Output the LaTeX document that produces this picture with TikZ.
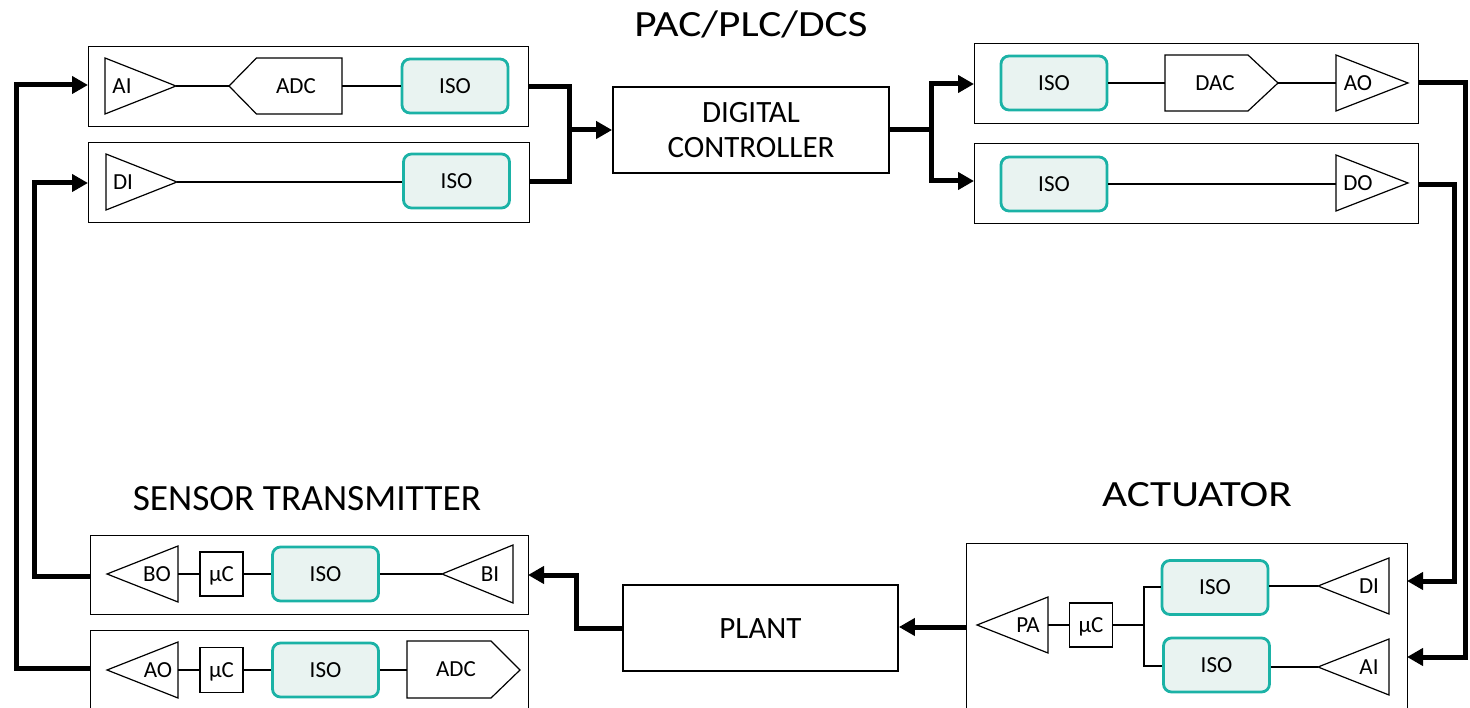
\documentclass[tikz,border=0pt]{standalone}
\usepackage{fontspec}
\setmainfont{Carlito}
\usetikzlibrary{arrows.meta}
\definecolor{isoteal}{RGB}{27,178,166}
\definecolor{isofill}{RGB}{233,243,241}
\begin{document}
\begin{tikzpicture}[x=1pt,y=-1pt,
  module/.style={draw, line width=1.2pt, inner sep=0pt, anchor=north west},
  bigbox/.style={draw, line width=1.8pt, inner sep=0pt, minimum width=276pt, minimum height=86pt},
  bigtext/.style={inner sep=0pt, font=\fontsize{31}{35}\selectfont, text height=20pt, text depth=0pt},
  lbl/.style={inner sep=0pt, font=\fontsize{23}{25}\selectfont, text height=14.8pt, text depth=0pt},
  title/.style={inner sep=0pt, font=\fontsize{37}{40}\selectfont, text height=23.8pt, text depth=0pt},
  iso/.style={draw=isoteal, line width=2.8pt, fill=isofill, rounded corners=8pt,
    minimum width=106pt, minimum height=54pt, lbl},
  mcbox/.style={draw, line width=1.2pt, minimum width=43pt, minimum height=44pt, lbl},
  wire/.style={line width=1.2pt},
  amp/.style={line width=1.2pt, line join=miter},
  bus/.style={line width=5pt, line join=miter},
  busarrow/.style={bus, -{Triangle[length=16pt,width=17pt]}}
]
\useasboundingbox (0,0) rectangle (1470,708);
\clip (0,0) rectangle (1470,708);

% ---------------- titles
\node[title] (tPAC) at (751,24.5) {\scalebox{1.17}[1]{PAC/PLC/DCS}};
\node[title] (tSens) at (307,499) {\scalebox{1.01}[1]{SENSOR TRANSMITTER}};
\node[title] (tAct) at (1197,494.5) {\scalebox{1.17}[1]{ACTUATOR}};

% ---------------- controller and plant
\node[bigbox] (ctrl) at (751,130) {};
\node[bigtext] (ctrlT1) at (751,112.5) {DIGITAL};
\node[bigtext] (ctrlT2) at (751,147.5) {CONTROLLER};
\node[bigbox, minimum width=275pt, bigtext] (plant) at (760.5,628) {PLANT};

% ---------------- top-left: AI module
\node[module, minimum width=440pt, minimum height=80pt] (mAI) at (88,46) {};
\draw[amp] (105,58) -- (176,86) coordinate (aiTip) -- (105,114) -- cycle;
\node[lbl] (lAI) at (122,86) {AI};
\draw[amp] (229,86) coordinate (adcTip) -- (256.5,58) -- (342,58) -- (342,114) -- (256.5,114) -- cycle;
\coordinate (adcR) at (342,86);
\node[lbl] (lADC) at (296,86) {ADC};
\node[iso] (iso1) at (455,86) {ISO};
\draw[wire] (aiTip) -- (adcTip);
\draw[wire] (adcR) -- (iso1.west);

% ---------------- top-left: DI module
\node[module, minimum width=441pt, minimum height=80pt] (mDI) at (88,142) {};
\draw[amp] (106,154) -- (177,182) coordinate (diTip) -- (106,210) -- cycle;
\node[lbl] (lDI) at (123,182) {DI};
\node[iso] (iso2) at (456.5,181) {ISO};
\draw[wire] (diTip) -- (diTip -| iso2.west);

% ---------------- top-right: AO module
\node[module, minimum width=444pt, minimum height=80pt] (mAO) at (974,43) {};
\node[iso] (iso3) at (1054,83) {ISO};
\draw[amp] (1165,55) -- (1248,55) -- (1278,83) coordinate (dacTip) -- (1248,111) -- (1165,111) -- cycle;
\coordinate (dacL) at (1165,83);
\node[lbl] (lDAC) at (1215,83) {DAC};
\draw[amp] (1336,55) -- (1408,83) coordinate (aoTip) -- (1336,111) -- cycle;
\coordinate (aoL) at (1336,83);
\node[lbl] (lAO) at (1358,83) {AO};
\draw[wire] (iso3.east) -- (dacL);
\draw[wire] (dacTip) -- (aoL);

% ---------------- top-right: DO module
\node[module, minimum width=444pt, minimum height=80pt] (mDO) at (974,143) {};
\node[iso] (iso4) at (1054,184) {ISO};
\draw[amp] (1336,155) -- (1408,183) coordinate (doTip) -- (1336,211) -- cycle;
\coordinate (doL) at (1336,184);
\node[lbl] (lDO) at (1358,183) {DO};
\draw[wire] (iso4.east) -- (doL);

% ---------------- sensor transmitter: BI module
\node[module, minimum width=438pt, minimum height=79pt] (mBI) at (90,535) {};
\draw[amp] (107,574) coordinate (boTip) -- (178,546) -- (178,602) -- cycle;
\coordinate (boR) at (178,574);
\node[lbl] (lBO) at (157,574) {BO};
\node[mcbox] (mc1) at (221.5,574) {µC};
\node[iso] (iso5) at (325.5,574) {ISO};
\draw[amp] (442,574) coordinate (biTip) -- (513,545) -- (513,603) -- cycle;
\node[lbl] (lBI) at (490,574) {BI};
\draw[wire] (boR) -- (mc1.west);
\draw[wire] (mc1.east) -- (iso5.west);
\draw[wire] (iso5.east) -- (biTip);

% ---------------- sensor transmitter: ADC module
\node[module, minimum width=438pt, minimum height=100pt] (mSADC) at (90,630) {};
\draw[amp] (107,670) coordinate (ao2Tip) -- (178,642) -- (178,698) -- cycle;
\coordinate (ao2R) at (178,670);
\node[lbl] (lAO2) at (158,670) {AO};
\node[mcbox, minimum height=45pt] (mc2) at (221.5,670) {µC};
\node[iso] (iso6) at (325.5,670) {ISO};
\draw[amp] (407,641) -- (491,641) -- (520,670) -- (491,698) -- (407,698) -- cycle;
\coordinate (adc2L) at (407,670);
\node[lbl] (lADC2) at (456,669) {ADC};
\draw[wire] (ao2R) -- (mc2.west);
\draw[wire] (mc2.east) -- (iso6.west);
\draw[wire] (iso6.east) -- (adc2L);

% ---------------- actuator
\node[module, minimum width=441pt, minimum height=200pt] (mAct) at (966,543) {};
\draw[amp] (977,625) -- (1048,597) -- (1048,653) -- cycle;
\coordinate (paR) at (1048,625);
\node[lbl] (lPA) at (1028,625) {PA};
\node[mcbox] (mc3) at (1091,625) {µC};
\coordinate (jA) at (1144,625);
\coordinate (jAt) at (1144,587);
\coordinate (jAb) at (1144,666);
\node[iso] (iso7) at (1215,587.5) {ISO};
\node[iso] (iso8) at (1216.5,665) {ISO};
\draw[amp] (1318,586) coordinate (adiTip) -- (1389,558) -- (1389,614) -- cycle;
\node[lbl] (lADI) at (1369,586) {DI};
\draw[amp] (1318,667) coordinate (aaiTip) -- (1389,639) -- (1389,695) -- cycle;
\node[lbl] (lAAI) at (1369,667) {AI};
\draw[wire] (paR) -- (mc3.west);
\draw[wire] (mc3.east) -- (jA);
\draw[wire] (jAt -| iso7.west) -- (jAt) -- (jAb) -- (jAb -| iso8.west);
\draw[wire] (iso7.east |- adiTip) -- (adiTip);
\draw[wire] (iso8.east |- aaiTip) -- (aaiTip);

% ---------------- thick buses
% inputs -> controller
\coordinate (aiOut) at (528,87);
\coordinate (diOut) at (529,182);
\coordinate (jL) at (569,130);
\draw[bus] (aiOut) -- (569,87) -- (569,182) -- (diOut);
\draw[busarrow] (jL) -- (ctrl.west);
% controller -> outputs
\coordinate (jR) at (931,130);
\coordinate (aoIn) at (974,84);
\coordinate (doIn) at (974,181);
\draw[bus] (ctrl.east) -- (jR);
\draw[busarrow] (jR) |- (aoIn);
\draw[busarrow] (jR) |- (doIn);
% outputs -> actuator
\coordinate (aoOut) at (1418,83);
\coordinate (actAIin) at (1407,657);
\draw[busarrow] (aoOut) -- (1465,83) -- (1465,657) -- (actAIin);
\coordinate (doOut) at (1418,185);
\coordinate (actDIin) at (1407,581);
\draw[busarrow] (doOut) -- (1454,185) -- (1454,581) -- (actDIin);
% actuator -> plant
\coordinate (actOut) at (966,627);
\draw[busarrow] (actOut) -- (actOut -| plant.east);
% plant -> sensor
\coordinate (biIn) at (528,575);
\draw[busarrow] (plant.west) -- (576,628) -- (576,575) -- (biIn);
% sensor -> inputs
\coordinate (boOut) at (90,576);
\coordinate (diIn) at (88,183);
\draw[busarrow] (boOut) -- (34.5,576) -- (34.5,183) -- (diIn);
\coordinate (aoSOut) at (90,668);
\coordinate (aiIn) at (88,85);
\draw[busarrow] (aoSOut) -- (16.5,668) -- (16.5,85) -- (aiIn);
\end{tikzpicture}
\end{document}
